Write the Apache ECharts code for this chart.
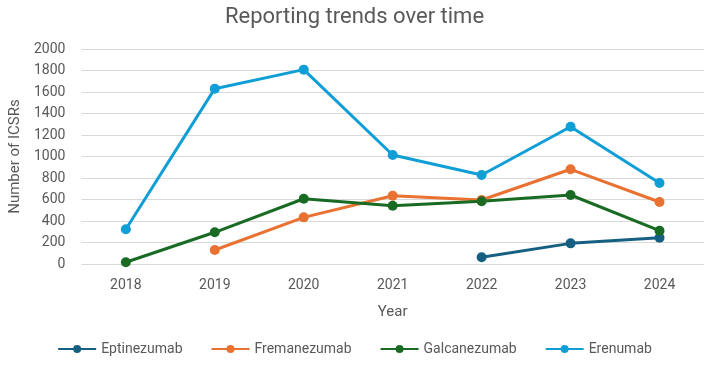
<!DOCTYPE html>
<html>
<head>
<meta charset="utf-8">
<script src="https://cdn.jsdelivr.net/npm/echarts@6/dist/echarts.min.js"></script>
<style>
  html, body { margin: 0; padding: 0; background: #fff; }
  #chart { width: 709px; height: 371px; }
</style>
</head>
<body>
<div id="chart"></div>
<script>
const years = ['2018', '2019', '2020', '2021', '2022', '2023', '2024']
// null = no data that year
const eptinezumab = [null, null, null, null, 62, 192, 245]
const fremanezumab = [null, 130, 434, 635, 595, 881, 577]
const galcanezumab = [16, 295, 607, 542, 583, 642, 310]
const erenumab = [323, 1631, 1808, 1014, 828, 1277, 753]

const FONT = "'Liberation Sans Narrow', 'Arial Narrow', 'Roboto', sans-serif"
const TXT = '#595959'

const mkLine = (name, data, color) => ({
  name,
  type: 'line',
  data,
  symbol: 'circle',
  symbolSize: 10,
  lineStyle: { width: 3, color },
  itemStyle: { color },
  connectNulls: false
})

const chart = echarts.init(document.getElementById('chart'))
chart.setOption({
  animation: false,
  title: {
    text: 'Reporting trends over time',
    left: 'center',
    top: 1,
    textStyle: { fontFamily: FONT, fontSize: 22, fontWeight: 'normal', color: TXT }
  },
  legend: {
    bottom: 10,
    left: 'center',
    itemWidth: 38,
    itemHeight: 10,
    itemGap: 28,
    textStyle: { fontFamily: FONT, fontSize: 14, color: TXT },
    data: ['Eptinezumab', 'Fremanezumab', 'Galcanezumab', 'Erenumab']
  },
  grid: { left: 74, right: 5, top: 49, bottom: 107 },
  xAxis: {
    type: 'category',
    data: years,
    name: 'Year',
    nameLocation: 'middle',
    nameGap: 41,
    nameTextStyle: { fontFamily: FONT, fontSize: 15, color: TXT },
    axisLine: { show: false },
    axisTick: { show: false },
    axisLabel: { fontFamily: FONT, fontSize: 14, color: TXT, margin: 14 }
  },
  yAxis: {
    type: 'value',
    min: 0,
    max: 2000,
    interval: 200,
    name: 'Number of ICSRs',
    nameLocation: 'middle',
    nameGap: 55,
    nameTextStyle: { fontFamily: FONT, fontSize: 15, color: TXT },
    axisLabel: { fontFamily: FONT, fontSize: 14, color: TXT, margin: 16, formatter: v => String(v) },
    splitLine: { lineStyle: { color: '#d9d9d9', width: 1 } }
  },
  series: [
    mkLine('Eptinezumab', eptinezumab, '#156082'),
    mkLine('Fremanezumab', fremanezumab, '#E97132'),
    mkLine('Galcanezumab', galcanezumab, '#196B24'),
    mkLine('Erenumab', erenumab, '#0F9ED5')
  ]
})
</script>
</body>
</html>
